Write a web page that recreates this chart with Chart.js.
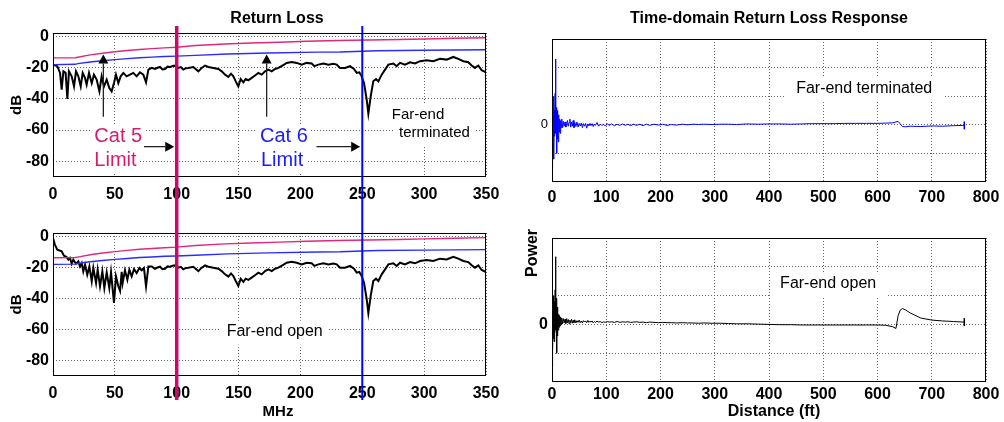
<!DOCTYPE html>
<html lang="en">
<head>
<meta charset="UTF-8">
<title>Return Loss</title>
<script src="https://cdn.jsdelivr.net/npm/chart.js"></script>
<style>
  body { margin: 0; background: #fff; }
  #wrap { position: relative; width: 1004px; height: 422px; overflow: hidden; }
  canvas { position: absolute; }
</style>
</head>
<body>
<div id="wrap">
  <canvas id="tl" width="500" height="200" style="left:0;top:0"></canvas>
  <canvas id="bl" width="500" height="222" style="left:0;top:200px"></canvas>
  <canvas id="br" width="504" height="222" style="left:500px;top:200px"></canvas>
  <canvas id="tr" width="504" height="205" style="left:500px;top:0"></canvas>
</div>
<script>
const FONT = "'Liberation Sans', Arial, sans-serif";
Chart.defaults.font.family = FONT;
Chart.defaults.color = '#000';

// ---- frequency domain (MHz / dB) ----
const freqTicks = [0, 50, 100, 150, 200, 250, 300, 350];
const dbTicks = [0, -20, -40, -60, -80];

const cat5X = [0, 18, 20, 30, 40, 50, 60, 70, 80, 90, 100, 115, 139, 160, 183, 205, 230, 255, 280, 300, 325, 350];
const cat5Y = [-13.9, -13.8, -13.5, -12, -10.9, -10, -9.2, -8.5, -8, -7.5, -7.1, -6, -5, -4.4, -3.9, -3.3, -2.8, -2.5, -2.2, -1.8, -1.4, -1.0];
const cat6X = [0, 18, 20, 30, 40, 50, 60, 70, 80, 90, 100, 115, 141, 174, 214, 232, 262, 300, 350];
const cat6Y = [-18.2, -18, -17.6, -16.5, -15.7, -15, -14.4, -13.8, -13.4, -13, -12.8, -12.3, -11.4, -10.8, -10.2, -10.1, -9.3, -9.0, -8.7];

// far-end terminated, 0-80 MHz
const termHeadX = [0, 3.5, 5.7, 7, 8.4, 10.2, 11.6, 12.9, 15.1, 17, 18.6, 20.5, 22.4, 24, 25.9, 27.2, 29.1, 31.3, 33.1, 35.3, 37.5, 39.3, 41.2, 43.4, 45.5, 47.4, 49.3, 50.9, 52.8, 54.7, 56.9, 59.5, 62.2, 64.9, 67.6, 70.3, 73, 75.2, 77.1, 79.8];
const termHeadY = [-18.2, -19.2, -23.5, -34.2, -22.5, -23.5, -40.2, -22.5, -25.7, -32.1, -22.5, -25.7, -32.1, -23.5, -26.7, -31, -23.5, -30, -24.6, -27.8, -35.3, -25.7, -32.1, -27.8, -33.2, -35.3, -30, -24.6, -30, -25.7, -23.5, -25.7, -24.6, -23.5, -25.7, -23.1, -24.6, -29.5, -21.4, -20.3];
// far-end open, 0-80 MHz
const openHeadX = [0, 1.6, 3.5, 7, 8.9, 11, 12.4, 13.7, 15.1, 16.4, 18.6, 20.5, 21.8, 23.2, 24.5, 25.9, 27.7, 29.4, 31.3, 32.6, 34.8, 36.1, 38, 39.9, 41.5, 43.4, 45.5, 46.9, 49.3, 50.9, 52.8, 54.2, 55.5, 56.3, 58.2, 60.1, 61.7, 63.6, 65.5, 67.6, 69.8, 71.7, 73.5, 75.2, 77.1, 79.8];
const openHeadY = [-1.3, -5.6, -8.8, -9.8, -12.6, -13.5, -15.2, -14.1, -17.8, -15.2, -17.8, -16.3, -19.5, -17.3, -22.7, -18.4, -24.8, -19.5, -29.1, -20.5, -30.2, -21.6, -32.3, -22.7, -33.4, -23.3, -33.4, -23.3, -43, -25.9, -32.3, -35.3, -23, -30.2, -22, -28, -21.6, -25.9, -21.2, -23.8, -20.5, -22, -20.5, -32.3, -19.5, -19.5];
// both measurements above 80 MHz
const tailX = [82.4, 84.5, 86.5, 88.5, 90.5, 92.6, 94.6, 97.8, 101.3, 103.3, 105.3, 107.4, 109.4, 113.4, 117.5, 120.2, 122.9, 125.6, 129.6, 133.7, 136.4, 139.1, 141.7, 143.9, 145.8, 147.7, 149.8, 151.7, 153.9, 155.7, 157.9, 160.6, 163.3, 166, 168.7, 171.4, 174.1, 176.8, 179.5, 182.2, 185.4, 188.9, 192.9, 197, 201, 205.1, 209.1, 211.3, 214.5, 218.5, 222.6, 226.6, 229.3, 232, 236, 240.1, 243.3, 245.5, 247.6, 249.5, 251.4, 253.6, 254.9, 256.8, 258.9, 261.1, 263, 265.7, 268.4, 271.1, 275.1, 277.8, 280.5, 284.5, 288.6, 292.6, 296.7, 302, 307.4, 312.8, 318.2, 323.6, 327.6, 331.7, 335.7, 338.4, 341.1, 343.8, 346.5, 350];
const tailY = [-21, -20.2, -19.7, -21.3, -21, -19.5, -19.7, -18.8, -20.3, -19.8, -21.4, -20.5, -20.3, -19.7, -22.5, -20.3, -18.8, -19.7, -20.3, -21, -22.5, -24.6, -26.1, -24, -25.7, -28.9, -32.1, -27.4, -29.5, -27.4, -28.2, -26.7, -25.2, -23.5, -24.6, -22.5, -21.4, -22.5, -21, -20.3, -18.8, -17.1, -16.5, -17.1, -18.2, -17.1, -17.5, -19.2, -18.2, -17.5, -18.2, -17.7, -18.2, -20.3, -20.3, -19.2, -21, -23.5, -23.1, -25.7, -30, -40.7, -49.5, -38.5, -28.9, -27.4, -28.9, -24.6, -21.4, -18.2, -17.5, -19.2, -17.1, -18.2, -16.7, -17.5, -16, -15.4, -16, -14.5, -15, -13.3, -14.5, -16, -16.7, -18.8, -20.3, -18.8, -21.8, -23.1];

// ---- time domain (ft / power) ----
const distTicks = [0, 100, 200, 300, 400, 500, 600, 700, 800];
const powerTicks = [-1, 0, 1, 2];
const tdX = [0, 0.5, 1.0, 1.6, 2.2, 2.8, 3.4, 4.0, 4.6, 5.2, 5.8, 6.5, 7.2, 7.9, 8.6, 9.3, 10.0, 10.8, 11.6, 12.4, 13.2, 14.0, 15, 16, 17, 18, 19.5, 21, 22.5, 24, 25.5, 27, 28.5, 30, 31.5, 33, 34.5, 36, 37.5, 39, 40.5, 42, 44, 46, 48, 50, 52, 54, 56, 58, 60, 62, 64, 66, 68, 70, 72, 74, 76, 78, 80, 83, 86, 89, 92, 95, 98, 102, 106, 110, 115, 120, 125, 130, 135, 140, 145, 150, 156, 162, 168, 174, 180, 188, 196, 204, 212, 220, 230, 240, 250, 260, 270, 280, 295, 310, 325, 340, 360, 380, 400, 420, 440, 460, 480, 500, 520, 540, 560, 580, 600, 615, 628, 634, 638, 642, 646, 652, 660, 680, 700, 720, 740, 760];
const tdTermY = [0, 1.0, -1.5, 0.9, -0.7, 1.0, -1.2, 0.5, -0.4, 0.3, 1.1, 2.3, -0.3, 0.6, -1.0, 0.5, -0.5, 0.3, -0.6, 0.35, -0.25, 0.2, -0.3, 0.15, -0.1, 0.2, -0.1, 0.12, -0.05, 0.1, -0.08, 0.05, 0.15, -0.05, 0.08, 0.2, -0.08, 0.1, -0.05, 0.15, -0.1, 0.08, -0.06, 0.1, -0.08, 0.05, -0.04, 0.06, -0.1, 0.04, -0.05, 0.05, -0.12, 0.03, -0.04, 0.05, -0.03, 0.04, -0.06, 0.03, -0.02, 0.08, -0.05, 0.03, -0.03, 0.02, -0.04, 0.03, -0.02, 0.03, -0.03, 0.02, -0.02, 0.03, -0.02, 0.02, -0.03, 0.02, -0.02, 0.02, -0.03, 0.02, -0.02, 0.02, -0.01, 0.02, -0.02, 0.01, -0.01, 0.02, 0, 0.02, 0.01, 0.02, 0.01, 0.02, 0.02, 0.01, 0.03, 0.02, 0.03, 0.03, 0.02, 0.03, 0.04, 0.04, 0.04, 0.05, 0.05, 0.05, 0.05, 0.06, 0.07, 0.1, 0.12, 0.03, -0.06, -0.07, -0.05, -0.06, -0.04, -0.05, -0.03, -0.02];
const tdOpenY = [0, -1.45, 1.05, -0.9, 0.9, -0.5, 1.0, -0.6, 0.8, -0.3, 1.2, 2.35, -0.2, 0.9, -1.0, 0.6, -0.4, 0.45, -0.2, 0.35, -0.1, 0.3, -0.05, 0.25, 0, 0.22, 0.02, 0.2, 0.05, 0.18, 0.03, 0.2, 0.06, 0.17, 0.02, 0.15, 0.05, 0.18, 0.04, 0.14, 0.06, 0.16, 0.05, 0.13, 0.07, 0.15, 0.06, 0.12, 0.05, 0.13, 0.08, 0.12, 0.06, 0.14, 0.07, 0.11, 0.08, 0.12, 0.06, 0.1, 0.07, 0.11, 0.08, 0.1, 0.06, 0.09, 0.07, 0.1, 0.08, 0.09, 0.07, 0.1, 0.07, 0.09, 0.08, 0.09, 0.07, 0.08, 0.09, 0.07, 0.08, 0.06, 0.08, 0.07, 0.06, 0.07, 0.06, 0.06, 0.05, 0.06, 0.05, 0.05, 0.04, 0.05, 0.04, 0.04, 0.03, 0.02, 0.02, 0.01, 0, -0.01, -0.01, -0.02, -0.02, -0.02, -0.02, -0.02, -0.02, -0.02, -0.02, -0.03, -0.08, -0.14, 0.3, 0.5, 0.55, 0.5, 0.4, 0.22, 0.15, 0.12, 0.1, 0.08];

const pts = (xs, ys) => xs.map((v, i) => ({x: v, y: ys[i]}));

// frame, notes, arrows, full-height marker lines and free text
const overlay = {
  id: 'overlay',
  beforeDatasetsDraw(chart, args, o) {
    const {ctx, scales: {x, y}} = chart;
    ctx.save();
    ctx.textBaseline = 'middle';
    ctx.textAlign = 'left';
    (o.notes || []).forEach(t => {
      ctx.font = t.font;
      const px = x.getPixelForValue(t.x), py = y.getPixelForValue(t.y);
      const w = ctx.measureText(t.text).width;
      ctx.fillStyle = '#fff';
      ctx.fillRect(px - t.pad, py - 11, w + 2 * t.pad, 24);
      ctx.fillStyle = t.color || '#000';
      ctx.fillText(t.text, px, py);
    });
    ctx.restore();
  },
  afterDraw(chart, args, o) {
    const {ctx, chartArea: a, scales: {x, y}} = chart;
    ctx.save();
    ctx.strokeStyle = '#000';
    ctx.lineWidth = 1;
    ctx.strokeRect(Math.round(a.left) + 0.5, Math.round(a.top) + 0.5,
      Math.round(a.right - a.left) - 1, Math.round(a.bottom - a.top) - 1);

    (o.arrows || []).forEach(r => {
      const x1 = x.getPixelForValue(r.x1), y1 = y.getPixelForValue(r.y1);
      const x2 = x.getPixelForValue(r.x2), y2 = y.getPixelForValue(r.y2);
      const ang = Math.atan2(y2 - y1, x2 - x1), c = Math.cos(ang), s = Math.sin(ang);
      const L = 9, H = 5;
      ctx.strokeStyle = '#222';
      ctx.lineWidth = 1.3;
      ctx.beginPath();
      ctx.moveTo(x1, y1);
      ctx.lineTo(x2 - L * c, y2 - L * s);
      ctx.stroke();
      ctx.fillStyle = '#000';
      ctx.beginPath();
      ctx.moveTo(x2, y2);
      ctx.lineTo(x2 - L * c + H * s, y2 - L * s - H * c);
      ctx.lineTo(x2 - L * c - H * s, y2 - L * s + H * c);
      ctx.closePath();
      ctx.fill();
    });

    (o.vlines || []).forEach(v => {
      const px = x.getPixelForValue(v.x);
      ctx.strokeStyle = v.color;
      ctx.lineWidth = v.width;
      ctx.beginPath();
      ctx.moveTo(px, v.top);
      ctx.lineTo(px, v.bottom);
      ctx.stroke();
    });

    ctx.fillStyle = '#000';
    ctx.textAlign = 'center';
    ctx.textBaseline = 'middle';
    (o.labels || []).forEach(l => {
      ctx.font = l.font;
      ctx.save();
      ctx.translate(l.x, l.y);
      if (l.rot) ctx.rotate(l.rot);
      ctx.fillText(l.text, 0, 0);
      ctx.restore();
    });
    ctx.restore();
  }
};

function line(data, color, width, endMark) {
  return {
    data, borderColor: color, borderWidth: width, tension: 0, fill: false,
    pointRadius: endMark ? (c => c.dataIndex === data.length - 1 ? 4 : 0) : 0,
    pointStyle: 'line', rotation: 90, pointBorderColor: color, pointBorderWidth: 1.5
  };
}

function makeChart(id, c) {
  return new Chart(document.getElementById(id), {
    type: 'line',
    data: {datasets: c.datasets},
    options: {
      responsive: false, animation: false, events: [],
      layout: {padding: c.pad},
      plugins: {legend: {display: false}, tooltip: {enabled: false}, overlay: c.overlay},
      scales: {
        x: {
          type: 'linear', min: c.xMin, max: c.xMax,
          afterFit: s => { s.height = c.xH; s.paddingLeft = 0; s.paddingRight = 0; },
          afterBuildTicks: s => { s.ticks = c.xTicks.map(v => ({value: v})); },
          ticks: {font: {size: 16, weight: 'bold'}, padding: c.xPad, maxRotation: 0, minRotation: 0, autoSkip: false},
          grid: {color: '#666', drawTicks: false},
          border: {display: false, dash: [1, 2]}
        },
        y: {
          min: c.yMin, max: c.yMax,
          afterFit: s => { s.width = c.yW; s.paddingTop = 0; s.paddingBottom = 0; },
          afterBuildTicks: s => { s.ticks = c.yTicks.map(v => ({value: v})); },
          ticks: {font: c.yFont, padding: 4, callback: c.yLabel},
          title: c.yTitle || {display: false},
          grid: {color: '#666', drawTicks: false},
          border: {display: false, dash: [1, 2]}
        }
      }
    },
    plugins: [overlay]
  });
}

const tickBold = {size: 16, weight: 'bold'};
const dbTitle = {display: true, text: 'dB', font: {size: 15, weight: 'bold'}, padding: {top: 8, bottom: 0}};
const limits = [
  line(pts(cat5X, cat5Y), '#e0287a', 1.4),
  line(pts(cat6X, cat6Y), '#2b2bff', 1.4)
];

makeChart('tl', {
  pad: {top: 33, right: 14, bottom: 0, left: 0},
  xMin: 0, xMax: 350, xTicks: freqTicks, xH: 23, xPad: 8,
  yMin: -90, yMax: 2, yTicks: dbTicks, yW: 53, yFont: tickBold, yTitle: dbTitle,
  datasets: [...limits, line(pts(termHeadX.concat(tailX), termHeadY.concat(tailY)), '#000', 2)],
  overlay: {
    notes: [
      {text: 'Cat 5', x: 33.4, y: -64.4, font: '20px ' + FONT, color: '#d81b6e', pad: 3},
      {text: 'Limit', x: 33.4, y: -79.2, font: '20px ' + FONT, color: '#d81b6e', pad: 3},
      {text: 'Cat 6', x: 167.3, y: -64.4, font: '20px ' + FONT, color: '#1a1aff', pad: 3},
      {text: 'Limit', x: 168.1, y: -79.2, font: '20px ' + FONT, color: '#1a1aff', pad: 3},
      {text: 'Far-end', x: 273.8, y: -50.3, font: '15px ' + FONT, pad: 4},
      {text: 'terminated', x: 279.7, y: -61.7, font: '15px ' + FONT, pad: 4}
    ],
    arrows: [
      {x1: 40.7, y1: -51.5, x2: 40.7, y2: -11.8},
      {x1: 172.7, y1: -51.5, x2: 172.7, y2: -11.8},
      {x1: 73.5, y1: -70.6, x2: 98, y2: -70.6},
      {x1: 213, y1: -70.6, x2: 248.3, y2: -70.6}
    ],
    vlines: [
      {x: 100, color: '#cc0a66', width: 3.5, top: 26, bottom: 200},
      {x: 250, color: '#0000ff', width: 2, top: 26, bottom: 200}
    ],
    labels: [{text: 'Return Loss', x: 277, y: 19, font: 'bold 16px ' + FONT}]
  }
});

makeChart('bl', {
  pad: {top: 33, right: 14, bottom: 0, left: 0},
  xMin: 0, xMax: 350, xTicks: freqTicks, xH: 46, xPad: 8,
  yMin: -90, yMax: 2, yTicks: dbTicks, yW: 53, yFont: tickBold, yTitle: dbTitle,
  datasets: [...limits, line(pts(openHeadX.concat(tailX), openHeadY.concat(tailY)), '#000', 2)],
  overlay: {
    notes: [{text: 'Far-end open', x: 140.4, y: -61.5, font: '16px ' + FONT, pad: 6}],
    vlines: [
      {x: 100, color: '#cc0a66', width: 3.5, top: 0, bottom: 200},
      {x: 250, color: '#0000ff', width: 2, top: 0, bottom: 200}
    ],
    labels: [{text: 'MHz', x: 278, y: 212, font: 'bold 15px ' + FONT}]
  }
});

const zeroOnly = v => (v === 0 ? '0' : '');

makeChart('tr', {
  pad: {top: 39, right: 18, bottom: 0, left: 0},
  xMin: 0, xMax: 800, xTicks: distTicks, xH: 23, xPad: 6,
  yMin: -2, yMax: 3, yTicks: powerTicks, yW: 52, yFont: {size: 13, weight: 'normal'}, yLabel: zeroOnly,
  datasets: [line(pts(tdX, tdTermY), '#0000ff', 1, true)],
  overlay: {
    notes: [{text: 'Far-end terminated', x: 450, y: 1.25, font: '16px ' + FONT, pad: 11}],
    labels: [{text: 'Time-domain Return Loss Response', x: 269, y: 19, font: 'bold 16px ' + FONT}]
  }
});

makeChart('br', {
  pad: {top: 38, right: 18, bottom: 0, left: 0},
  xMin: 0, xMax: 800, xTicks: distTicks, xH: 40, xPad: 3,
  yMin: -2, yMax: 3, yTicks: powerTicks, yW: 52, yFont: tickBold, yLabel: zeroOnly,
  datasets: [line(pts(tdX, tdOpenY), '#000', 1, true)],
  overlay: {
    notes: [{text: 'Far-end open', x: 420.5, y: 1.42, font: '16px ' + FONT, pad: 10}],
    labels: [
      {text: 'Distance (ft)', x: 274, y: 212, font: 'bold 16px ' + FONT},
      {text: 'Power', x: 33, y: 53, rot: -Math.PI / 2, font: 'bold 16px ' + FONT}
    ]
  }
});
</script>
</body>
</html>
